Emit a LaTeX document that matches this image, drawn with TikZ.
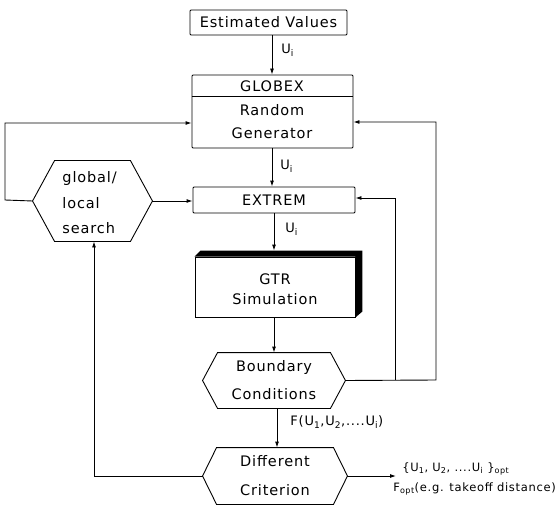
\documentclass[tikz,border=0pt]{standalone}
\usepackage{fontspec}
\setmainfont{DejaVu Sans}[LetterSpace=6]
\usetikzlibrary{arrows.meta}
\begin{document}
\begin{tikzpicture}[x=1pt,y=-1pt, line width=0.9pt,
  txt/.style={inner sep=0pt, font=\fontsize{14.5}{16}\selectfont},
  lbl/.style={inner sep=0pt, anchor=west, font=\fontsize{13}{15}\selectfont},
  outl/.style={inner sep=0pt, anchor=west, font=\fontsize{11.5}{13}\selectfont},
  boxx/.style={draw, inner sep=0pt, rounded corners=1pt},
  shape box/.style={inner sep=0pt},
  arr/.style={-{Latex[length=6pt,width=4pt]}},
]
\useasboundingbox (0,0) rectangle (556,505);

% boxes
\node[boxx, txt, minimum width=157pt, minimum height=25pt] (est) at (268.5,22.5) {Estimated Values};
\node[boxx, minimum width=161pt, minimum height=73pt] (glob) at (272.5,111.5) {};
\draw ([yshift=-22pt]glob.north west) -- ([yshift=-22pt]glob.north east);
\node[txt] (globt) at (272,86) {GLOBEX};
\node[txt] (rand) at (272,110) {Random};
\node[txt] (gen) at (272,133) {Generator};

\node[boxx, txt, minimum width=162pt, minimum height=26pt] (ext) at (274,200) {EXTREM};

\node[draw, inner sep=0pt, minimum width=160pt, minimum height=60pt] (gtr) at (275,287) {};
\fill (gtr.north west) -- ([shift={(6pt,6pt)}]gtr.north west) -- ([shift={(7pt,6pt)}]gtr.north east)
  -- ([shift={(7pt,6pt)}]gtr.south east) -- (gtr.south east) -- (gtr.north east) -- cycle;
\coordinate (gtrtop) at ([yshift=6pt]gtr.north -| 274,0);
\node[txt] (gtrt) at (275,279) {GTR};
\node[txt] (sim) at (275,299) {Simulation};

% hexagons
\node[shape box, minimum width=112pt, minimum height=55pt] (bc) at (274,380.5) {};
\draw (bc.north west) -- (bc.north east) -- ([xshift=15pt]bc.east) -- (bc.south east)
  -- (bc.south west) -- ([xshift=-15pt]bc.west) -- cycle;
\coordinate (bcr) at ([xshift=15pt]bc.east);
\node[txt] (bct1) at (274,367) {Boundary};
\node[txt] (bct2) at (274,394) {Conditions};

\node[shape box, minimum width=116pt, minimum height=56pt] (dc) at (275,476) {};
\draw (dc.north west) -- (dc.north east) -- ([xshift=14pt]dc.east) -- (dc.south east)
  -- (dc.south west) -- ([xshift=-14pt]dc.west) -- cycle;
\coordinate (dcl) at ([xshift=-14pt]dc.west);
\coordinate (dcr) at ([xshift=14pt]dc.east);
\node[txt] (dct1) at (275,461) {Different};
\node[txt] (dct2) at (275,490) {Criterion};

\node[shape box, minimum width=75pt, minimum height=80pt] (gl) at (92.5,201) {};
\draw (gl.north west) -- (gl.north east) -- ([xshift=22pt]gl.east) -- (gl.south east)
  -- (gl.south west) -- ([xshift=-22pt]gl.west) -- cycle;
\coordinate (gll) at ([xshift=-22pt]gl.west);
\coordinate (glr) at ([xshift=22pt]gl.east);
\node[txt, anchor=west] (glt1) at (62,178) {global/};
\node[txt, anchor=west] (glt2) at (62,203) {local};
\node[txt, anchor=west] (glt3) at (62,228) {search};

% main flow
\draw[arr] (est.south -| 272,0) -- (glob.north -| 272,0);
\draw[arr] (glob.south -| 272,0) -- (ext.north -| 272,0);
\draw[arr] (ext.south -| 274,0) -- (gtrtop);
\draw[arr] (gtr.south -| 274,0) -- (bc.north -| 274,0);
\draw[arr] (bc.south -| 277,0) -- (dc.north -| 277,0);

\node[lbl] (u1) at (281,50) {U\textsubscript{i}};
\node[lbl] (u2) at (280,166) {U\textsubscript{i}};
\node[lbl] (u3) at (285,229) {U\textsubscript{i}};
\node[lbl] (fu) at (290,422) {F(U\textsubscript{1},U\textsubscript{2},....U\textsubscript{i})};

% side loops
\draw[arr] (glr) -- (ext.west |- glr);
\draw[arr] (gll) -- (5,200) -- (5,123) -- (glob.west |- 0,123);
\draw[arr] (dcl) -- (94,476) -- (gl.south -| 94,0);
\draw[arr] (bcr) -- (436,380) -- (436,122) -- (glob.east |- 0,122);
\draw[arr] (395,380) -- (395,198) -- (ext.east |- 0,198);

% output
\coordinate (outend) at (396,476);
\draw[arr] (dcr) -- (outend);
\node[outl] (optset) at (402,469) {\{U\textsubscript{1}, U\textsubscript{2}, ....U\textsubscript{i} \}\textsubscript{opt}};
\node[outl] (fopt) at (393,489) {F\textsubscript{opt}(e.g. takeoff distance)};
\end{tikzpicture}
\end{document}
